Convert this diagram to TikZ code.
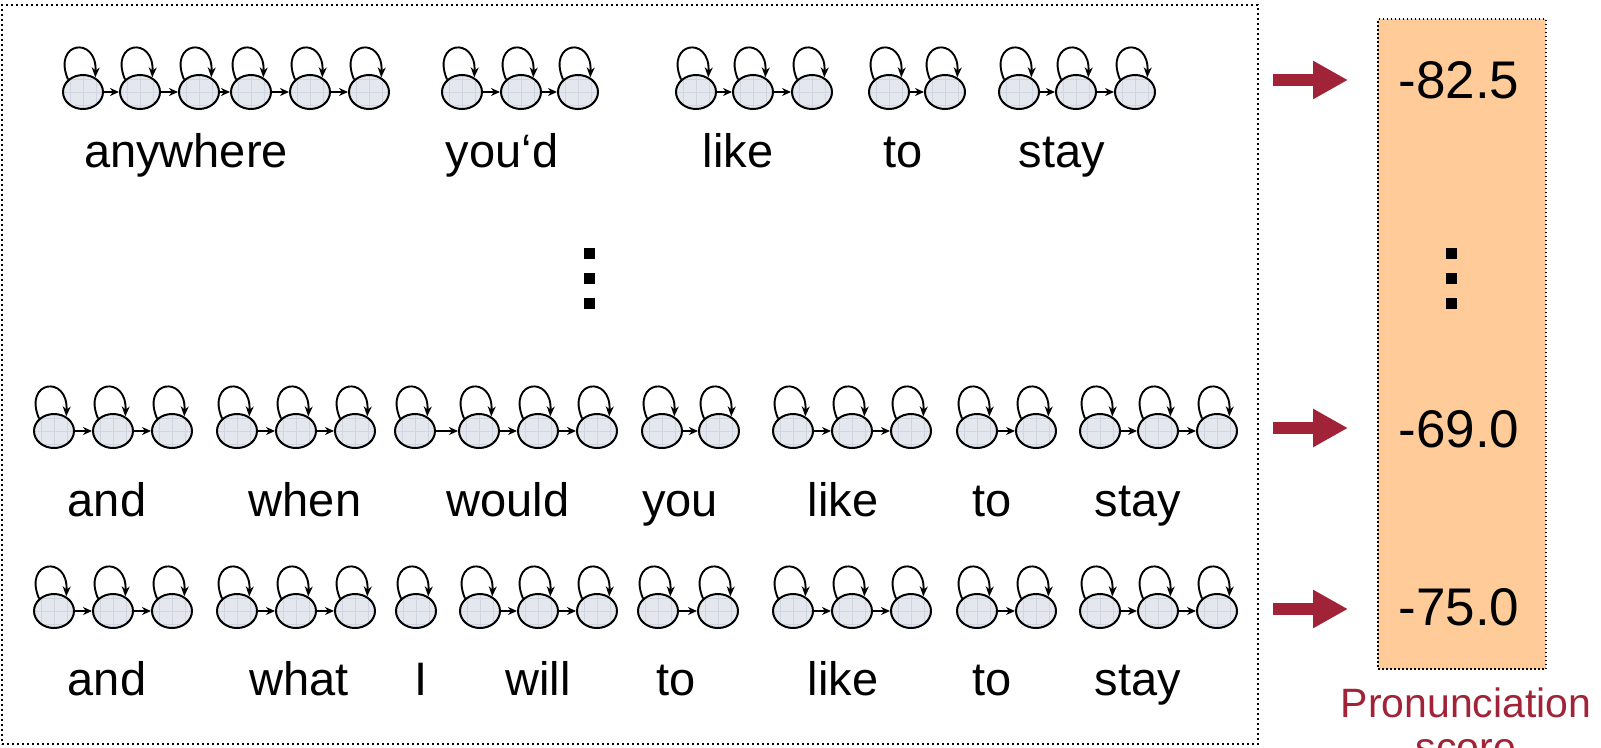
\documentclass[tikz,border=0pt]{standalone}
\usepackage{fontspec}
\setmainfont{Liberation Sans}
\usetikzlibrary{shapes.geometric,arrows.meta}
\definecolor{stfill}{RGB}{228,232,238}
\definecolor{gridc}{RGB}{208,214,224}
\definecolor{peach}{RGB}{255,204,153}
\definecolor{darkred}{RGB}{160,35,55}

\newcommand\hmmgroup[3]{%
  \foreach \xx [count=\i] in {#3} {
    \node[hmmstate] (#1-\i) at (\xx,#2) {};
    \draw[selfloop] (#1-\i.140) .. controls +(-16pt,38pt) and +(2pt,42pt) .. (#1-\i.50);
  }
  \foreach \xx [count=\i, remember=\i as \j (initially 0)] in {#3} {
    \ifnum\j>0 \draw[trans] (#1-\j) -- (#1-\i); \fi
  }
}

\begin{document}
\begin{tikzpicture}[x=1pt,y=-1pt,
  hmmstate/.style={ellipse, draw, line width=2pt, fill=stfill, minimum width=40pt, minimum height=34pt, inner sep=0pt,
    path picture={\draw[gridc, line width=0.5pt] ([xshift=-26pt,yshift=-26pt]path picture bounding box.center) grid[step=13pt] ([xshift=26pt,yshift=26pt]path picture bounding box.center);}},
  selfloop/.style={line width=1.9pt, -{Stealth[length=10pt,width=8pt]}},
  trans/.style={line width=1.9pt, -{Stealth[length=9pt,width=8pt]}},
  word/.style={font=\fontsize{47}{50}\selectfont, anchor=base, inner sep=0pt},
  val/.style={font=\fontsize{53}{56}\selectfont, anchor=base, inner sep=0pt},
  framebox/.style={draw, line width=1.7pt, dash pattern=on 1.7pt off 3.3pt},
  scorebox/.style={draw, fill=peach, line width=1.5pt, dash pattern=on 1.5pt off 2.5pt},
  dotsq/.style={fill=black, minimum size=11pt, inner sep=0pt},
  redarrow/.style={darkred, line width=12pt, -{Triangle[length=35pt,width=36pt]}}
]
\useasboundingbox (0,0) rectangle (1601,747);
\clip (0,0) rectangle (1601,747);

% frames
\node[framebox, minimum width=1256pt, minimum height=739pt] (frame) at (630,374.5) {};
\node[scorebox, minimum width=168pt, minimum height=650pt] (scores) at (1462,344) {};

% row 1
\hmmgroup{ra}{92}{83,140,199,251,310,369}
\hmmgroup{rb}{92}{462,521,578}
\hmmgroup{rc}{92}{696,753,812}
\hmmgroup{rd}{92}{889,945}
\hmmgroup{re}{92}{1019,1076,1135}
\node[word] (wa) at (186,167) {anywhere};
\node[word] (wb) at (502,167) {you‘d};
\node[word] (wc) at (738,167) {like};
\node[word] (wd) at (903,167) {to};
\node[word] (we) at (1062,167) {stay};

% row 2
\hmmgroup{sa}{431}{54,113,172}
\hmmgroup{sb}{431}{237,296,355}
\hmmgroup{sc}{431}{415,479,538,597}
\hmmgroup{sd}{431}{662,719}
\hmmgroup{se}{431}{793,852,911}
\hmmgroup{sf}{431}{977,1036}
\hmmgroup{sg}{431}{1100,1158,1217}
\node[word] (xa) at (107,516) {and};
\node[word] (xb) at (305,516) {when};
\node[word] (xc) at (508,516) {would};
\node[word] (xd) at (680,516) {you};
\node[word] (xe) at (843,516) {like};
\node[word] (xf) at (992,516) {to};
\node[word] (xg) at (1138,516) {stay};

% row 3
\hmmgroup{ta}{611}{54,113,172}
\hmmgroup{tb}{611}{237,296,355}
\hmmgroup{tc}{611}{416}
\hmmgroup{td}{611}{480,538,597}
\hmmgroup{te}{611}{658,718}
\hmmgroup{tf}{611}{793,852,911}
\hmmgroup{tg}{611}{977,1036}
\hmmgroup{th}{611}{1100,1158,1217}
\node[word] (ya) at (107,695) {and};
\node[word] (yb) at (299,695) {what};
\node[word] (yc) at (421,695) {I};
\node[word] (yd) at (538,695) {will};
\node[word] (ye) at (676,695) {to};
\node[word] (yf) at (843,695) {like};
\node[word] (yg) at (992,695) {to};
\node[word] (yh) at (1138,695) {stay};

% vertical ellipsis dots
\node[dotsq] (d1) at (589,253) {};
\node[dotsq] (d2) at (589,278) {};
\node[dotsq] (d3) at (589,303) {};
\node[dotsq] (e1) at (1451,253) {};
\node[dotsq] (e2) at (1451,278) {};
\node[dotsq] (e3) at (1451,303) {};

% scores
\node[val] (v1) at (1459,98) {-82.5};
\node[val] (v2) at (1459,447) {-69.0};
\node[val] (v3) at (1459,625) {-75.0};

% red arrows
\coordinate (a1s) at (1273,80);  \coordinate (a1e) at (1348,80);
\coordinate (a2s) at (1273,428); \coordinate (a2e) at (1348,428);
\coordinate (a3s) at (1273,609); \coordinate (a3e) at (1348,609);
\draw[redarrow] (a1s) -- (a1e);
\draw[redarrow] (a2s) -- (a2e);
\draw[redarrow] (a3s) -- (a3e);

% caption (second line runs off the bottom edge, as in the reference)
\node[darkred, font=\fontsize{41}{44}\selectfont, align=center, anchor=base, inner sep=0pt] (cap) at (1466,761) {Pronunciation\\score};
\end{tikzpicture}
\end{document}
